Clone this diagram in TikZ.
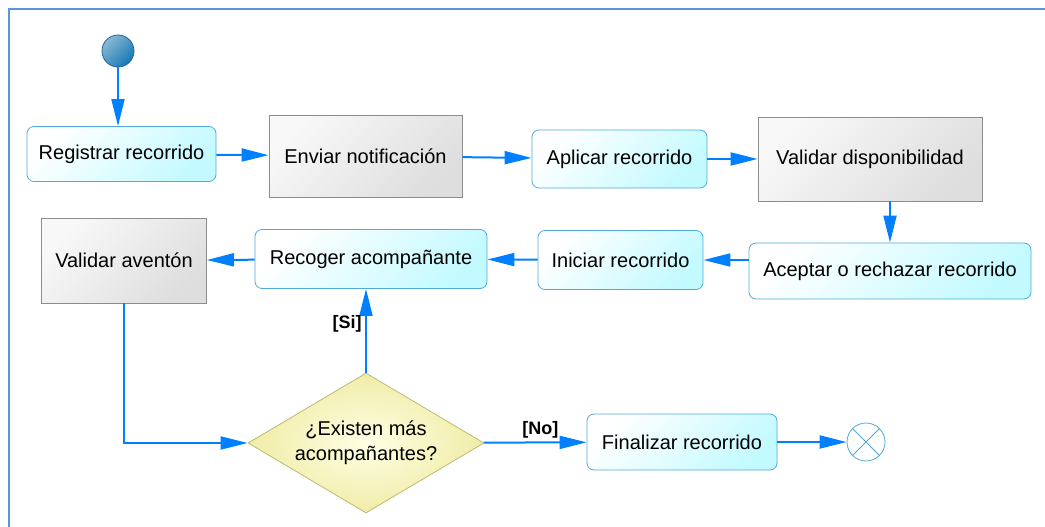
\documentclass[tikz,border=0pt]{standalone}
\usepackage{fontspec}
\setmainfont{Liberation Sans}
\usetikzlibrary{arrows.meta,shapes.geometric}
\definecolor{flow}{RGB}{0,128,255}
\definecolor{frameblue}{RGB}{90,150,220}
\definecolor{actline}{RGB}{80,170,220}
\definecolor{actfill}{RGB}{195,250,255}
\definecolor{taskline}{RGB}{140,140,140}
\definecolor{taskhi}{RGB}{248,248,248}
\definecolor{tasklo}{RGB}{222,222,222}
\definecolor{decline}{RGB}{190,185,110}
\definecolor{decin}{RGB}{255,255,228}
\definecolor{decout}{RGB}{240,236,168}
\definecolor{dotline}{RGB}{30,100,160}
\definecolor{dothi}{RGB}{140,185,210}
\definecolor{dotlo}{RGB}{20,120,180}
\begin{document}
\begin{tikzpicture}[x=1pt, y=-1pt, every node/.style={font=\fontsize{20}{25}\selectfont},
  act/.style={rectangle, rounded corners=7pt, draw=actline, line width=0.8pt, top color=white, bottom color=actfill, shading angle=45, inner sep=0pt},
  task/.style={rectangle, draw=taskline, line width=0.8pt, top color=taskhi, bottom color=tasklo, shading angle=45, inner sep=0pt},
  decision/.style={diamond, aspect=1.69, draw=decline, line width=0.8pt, inner color=decin, outer color=decout, minimum width=236pt, minimum height=140pt, inner sep=0pt, align=center},
  flowarr/.style={draw=flow, line width=2pt, -{Triangle[length=27pt, width=13pt]}},
  guard/.style={font=\fontsize{18}{22}\selectfont\bfseries}]
  \useasboundingbox (0,0) rectangle (1045,527);
  \draw[frameblue, line width=2pt] (1045,9.5) -- (8.5,9.5) -- (8.5,527);
  \node[circle, draw=dotline, line width=0.8pt, top color=dothi, bottom color=dotlo, shading angle=45, minimum size=32pt, inner sep=0pt] (inicio) at (118,51) {};
  \node[act, minimum width=189pt, minimum height=55pt] (reg) at (121.5,154) {Registrar recorrido};
  \node[task, minimum width=193pt, minimum height=82pt] (env) at (365.5,156) {Enviar notificación};
  \node[act, minimum width=175pt, minimum height=58pt] (apl) at (619.5,159) {Aplicar recorrido};
  \node[task, minimum width=224pt, minimum height=84pt] (vdis) at (870,159) {Validar disponibilidad};
  \node[act, minimum width=282pt, minimum height=56pt] (acep) at (890,271) {Aceptar o rechazar recorrido};
  \node[act, minimum width=165pt, minimum height=59pt] (inic) at (620.5,260) {Iniciar recorrido};
  \node[act, minimum width=232pt, minimum height=59pt] (rec) at (371,259) {Recoger acompañante};
  \node[task, minimum width=165pt, minimum height=85pt] (vav) at (124,260.5) {Validar aventón};
  \node[decision] (mas) at (366,443) {¿Existen más\\acompañantes?};
  \node[act, minimum width=190pt, minimum height=56pt] (fin) at (682,442) {Finalizar recorrido};
  \node[circle, draw=actline, fill=white, line width=0.8pt, minimum size=38pt, inner sep=0pt] (final) at (866,442) {};
  \draw[actline, line width=0.8pt] (final.north west) -- (final.south east); \draw[actline, line width=0.8pt] (final.north east) -- (final.south west);
  \draw[flowarr] (inicio) -- (inicio |- reg.north);
  \draw[flowarr] (reg) -- (env); \draw[flowarr] (env) -- (apl);
  \draw[flowarr] (apl) -- (vdis); \draw[flowarr] (vdis.south -| acep) -- (acep);
  \draw[flowarr] (acep.west |- inic) -- (inic); \draw[flowarr] (inic) -- (rec);
  \draw[flowarr] (rec) -- (vav); \draw[flowarr] (vav) |- (mas);
  \draw[flowarr] (mas) -- (mas |- rec.south) node[pos=0.58, left, guard] {[Si]};
  \draw[flowarr] (mas) -- (fin) node[pos=0.55, above, guard] {[No]};
  \draw[flowarr] (fin) -- (final);
\end{tikzpicture}
\end{document}
